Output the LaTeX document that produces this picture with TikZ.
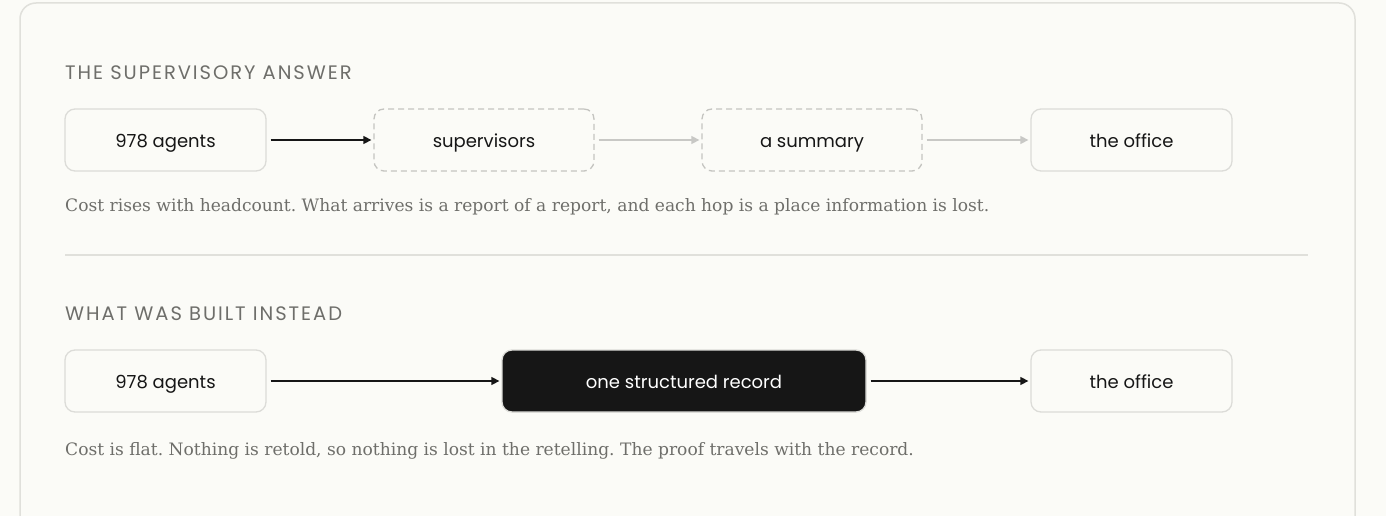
\documentclass[tikz,border=0pt]{standalone}
\usepackage{fontspec}
\setmainfont{DejaVu Serif}
\newfontfamily\boxfont{Poppins}
\newfontfamily\headfont[LetterSpace=10]{Poppins}
\usetikzlibrary{arrows.meta}
\definecolor{paper}{HTML}{FBFBF7}
\definecolor{cardline}{HTML}{E0E0DB}
\definecolor{boxline}{HTML}{DCDCD8}
\definecolor{dashline}{HTML}{C4C4C0}
\definecolor{faint}{HTML}{C8C8C5}
\definecolor{ink}{HTML}{161616}
\definecolor{muted}{HTML}{6E6E6A}
\frenchspacing

\begin{document}
\begin{tikzpicture}[x=1pt,y=-1pt,
    box/.style={draw=boxline,line width=1.3pt,rounded corners=10pt,fill=paper,
      minimum height=62pt,text height=15pt,text depth=0pt,text=ink,
      font=\boxfont\fontsize{18}{20}\selectfont},
    hop/.style={box,draw=dashline,dash pattern=on 6pt off 4pt},
    solid box/.style={box,draw=boxline,fill=ink,text=white},
    head/.style={anchor=base west,inner sep=0pt,text=muted,font=\headfont\fontsize{19.5}{22}\selectfont},
    note/.style={anchor=base west,inner sep=0pt,text=muted,font=\fontsize{17.1}{22}\selectfont},
    link/.style={-{Triangle[length=8pt,width=8pt]},line width=1.4pt,ink,shorten <=4pt,shorten >=2pt},
    weak link/.style={link,faint},
    ]
  \useasboundingbox[fill=paper] (0,0) rectangle (1386,516);
  \draw[cardline,line width=1.5pt,rounded corners=16pt] (20,560) -- (20,3) -- (1355,3) -- (1355,560);

  % supervisory chain
  \node[head] (head1) at (65,80) {THE SUPERVISORY ANSWER};
  \node[box,minimum width=201pt] (agents1) at (165.5,140) {978 agents};
  \node[hop,minimum width=220pt] (sup) at (484,140) {supervisors};
  \node[hop,minimum width=220pt] (summary) at (812,140) {a summary};
  \node[box,minimum width=201pt] (office1) at (1131.5,140) {the office};

  \draw[link] (agents1) -- (sup);
  \draw[weak link] (sup) -- (summary);
  \draw[weak link] (summary) -- (office1);

  \node[note] (note1) at (65,211) {Cost rises with headcount. What arrives is a report of a report, and each hop is a place information is lost.};

  \draw[cardline,line width=1.5pt] (65,255) -- (1308,255);

  % what was built
  \node[head] (head2) at (65,320) {WHAT WAS BUILT INSTEAD};
  \node[box,minimum width=201pt] (agents2) at (165.5,381) {978 agents};
  \node[solid box,minimum width=364pt] (record) at (684,381) {one structured record};
  \node[box,minimum width=201pt] (office2) at (1131.5,381) {the office};

  \draw[link] (agents2) -- (record);
  \draw[link] (record) -- (office2);

  \node[note] (note2) at (65,455) {Cost is flat. Nothing is retold, so nothing is lost in the retelling. The proof travels with the record.};
\end{tikzpicture}
\end{document}
